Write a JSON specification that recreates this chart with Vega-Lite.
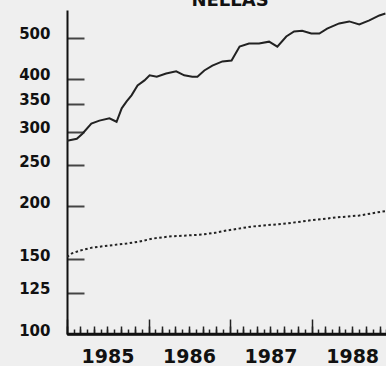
{
  "$schema": "https://vega.github.io/schema/vega-lite/v6.json",
  "autosize": {"type": "none"},
  "padding": {"left": 67, "top": 10, "right": 0, "bottom": 32},
  "width": 326,
  "height": 324,
  "background": "#efefef",
  "title": {"text": "NELLAS", "font": "DejaVu Sans", "fontSize": 18, "fontWeight": "bold", "color": "#111", "anchor": "middle", "offset": 0},
  "config": {"view": {"stroke": null}, "axis": {"grid": false}},
  "data": {"values": [
    {"date": "1985-01-01", "value": 286, "series": "price"},
    {"date": "1985-02-14", "value": 289, "series": "price"},
    {"date": "1985-03-11", "value": 297, "series": "price"},
    {"date": "1985-04-20", "value": 314, "series": "price"},
    {"date": "1985-05-26", "value": 319, "series": "price"},
    {"date": "1985-07-10", "value": 323, "series": "price"},
    {"date": "1985-08-11", "value": 317, "series": "price"},
    {"date": "1985-09-03", "value": 341, "series": "price"},
    {"date": "1985-09-25", "value": 354, "series": "price"},
    {"date": "1985-10-17", "value": 366, "series": "price"},
    {"date": "1985-11-13", "value": 386, "series": "price"},
    {"date": "1985-12-14", "value": 397, "series": "price"},
    {"date": "1986-01-06", "value": 408, "series": "price"},
    {"date": "1986-02-07", "value": 405, "series": "price"},
    {"date": "1986-03-21", "value": 412, "series": "price"},
    {"date": "1986-05-05", "value": 417, "series": "price"},
    {"date": "1986-06-10", "value": 408, "series": "price"},
    {"date": "1986-07-16", "value": 405, "series": "price"},
    {"date": "1986-08-08", "value": 405, "series": "price"},
    {"date": "1986-09-08", "value": 419, "series": "price"},
    {"date": "1986-10-14", "value": 430, "series": "price"},
    {"date": "1986-11-28", "value": 440, "series": "price"},
    {"date": "1987-01-08", "value": 442, "series": "price"},
    {"date": "1987-02-13", "value": 477, "series": "price"},
    {"date": "1987-03-27", "value": 485, "series": "price"},
    {"date": "1987-05-11", "value": 485, "series": "price"},
    {"date": "1987-06-25", "value": 490, "series": "price"},
    {"date": "1987-08-01", "value": 477, "series": "price"},
    {"date": "1987-09-10", "value": 504, "series": "price"},
    {"date": "1987-10-15", "value": 518, "series": "price"},
    {"date": "1987-11-20", "value": 520, "series": "price"},
    {"date": "1987-12-31", "value": 512, "series": "price"},
    {"date": "1988-02-05", "value": 512, "series": "price"},
    {"date": "1988-03-11", "value": 526, "series": "price"},
    {"date": "1988-05-04", "value": 541, "series": "price"},
    {"date": "1988-06-18", "value": 547, "series": "price"},
    {"date": "1988-08-02", "value": 538, "series": "price"},
    {"date": "1988-09-16", "value": 550, "series": "price"},
    {"date": "1988-10-31", "value": 565, "series": "price"},
    {"date": "1988-11-27", "value": 571, "series": "price"},
    {"date": "1985-01-01", "value": 152, "series": "index"},
    {"date": "1985-01-23", "value": 155, "series": "index"},
    {"date": "1985-02-28", "value": 157.4, "series": "index"},
    {"date": "1985-04-25", "value": 160, "series": "index"},
    {"date": "1985-07-10", "value": 161.8, "series": "index"},
    {"date": "1985-09-25", "value": 163.5, "series": "index"},
    {"date": "1985-11-22", "value": 165.3, "series": "index"},
    {"date": "1986-01-20", "value": 168, "series": "index"},
    {"date": "1986-04-04", "value": 169.9, "series": "index"},
    {"date": "1986-06-19", "value": 170.8, "series": "index"},
    {"date": "1986-08-31", "value": 171.7, "series": "index"},
    {"date": "1986-11-01", "value": 173.6, "series": "index"},
    {"date": "1986-12-16", "value": 175.5, "series": "index"},
    {"date": "1987-04-10", "value": 179.4, "series": "index"},
    {"date": "1987-09-10", "value": 182.3, "series": "index"},
    {"date": "1987-12-21", "value": 185.3, "series": "index"},
    {"date": "1988-04-20", "value": 188.4, "series": "index"},
    {"date": "1988-08-02", "value": 190.4, "series": "index"},
    {"date": "1988-11-13", "value": 194.6, "series": "index"},
    {"date": "1988-11-27", "value": 195, "series": "index"}
  ]},
  "encoding": {
    "y": {
      "field": "value", "type": "quantitative", "title": null,
      "scale": {"type": "log", "domain": [100, 582], "nice": false},
      "axis": {
        "values": [100, 125, 150, 200, 250, 300, 350, 400, 500],
        "tickSize": -17, "tickColor": "#444", "tickWidth": 2,
        "domainColor": "#111", "domainWidth": 2,
        "labelFont": "DejaVu Sans", "labelFontSize": 15, "labelFontWeight": "bold", "labelColor": "#111",
        "labelPadding": 34, "labelOffset": -4
      }
    }
  },
  "layer": [
    {
      "transform": [{"filter": "datum.series == 'price'"}],
      "mark": {"type": "line", "color": "#222", "strokeWidth": 2, "clip": true},
      "encoding": {
        "x": {
          "field": "date", "type": "temporal", "title": null,
          "scale": {"type": "utc", "domain": [{"year": 1985, "month": 1, "date": 1, "utc": true}, {"year": 1988, "month": 12, "date": 31, "utc": true}]},
          "axis": {
            "orient": "bottom",
            "tickCount": {"interval": "month", "step": 1},
            "tickSize": {"condition": {"test": "utcmonth(datum.value) == 0", "value": -15}, "value": -5},
            "tickColor": "#222", "tickWidth": 1.5,
            "domain": true, "domainColor": "#111", "domainWidth": 2.5,
            "labelExpr": "utcmonth(datum.value) == 6 ? utcyear(datum.value) : ''",
            "labelOverlap": false, "labelFlush": false, "labelBound": false,
            "labelFont": "DejaVu Sans", "labelFontSize": 19, "labelFontWeight": "bold", "labelColor": "#111",
            "labelPadding": 6, "labelBaseline": "line-top", "labelLineHeight": 43
          }
        }
      }
    },
    {
      "transform": [{"filter": "datum.series == 'index'"}],
      "mark": {"type": "line", "color": "#222", "strokeWidth": 2, "strokeDash": [2.5, 2.5], "clip": true},
      "encoding": {
        "x": {
          "field": "date", "type": "temporal", "title": null,
          "axis": {
            "orient": "bottom",
            "tickCount": {"interval": "month", "step": 2},
            "tickSize": -8, "tickColor": "#222", "tickWidth": 1.5,
            "domain": false, "labels": false
          }
        }
      }
    },
    {
      "data": {"values": [{"base": 100}]},
      "mark": {"type": "rule", "color": "#111", "strokeWidth": 2.5},
      "encoding": {"y": {"field": "base", "type": "quantitative"}}
    }
  ],
  "resolve": {"axis": {"x": "independent"}}
}
